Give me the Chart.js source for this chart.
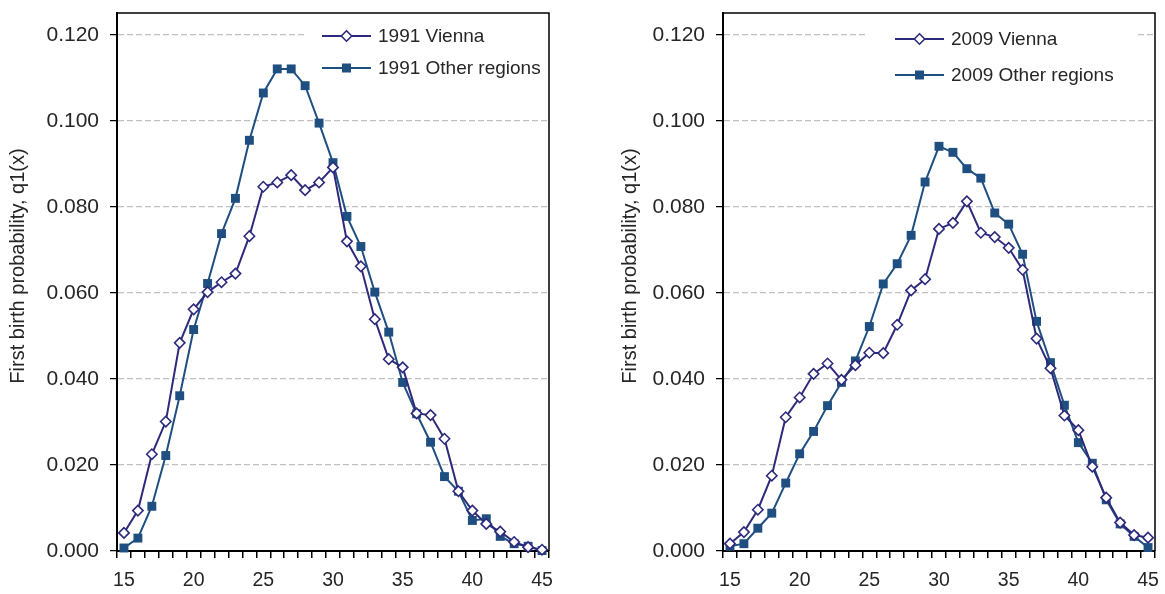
<!DOCTYPE html>
<html>
<head>
<meta charset="utf-8">
<script src="https://cdn.jsdelivr.net/npm/chart.js@4.4.1/dist/chart.umd.min.js"></script>
<style>
  html, body { margin: 0; padding: 0; background: #ffffff; }
  body { width: 1165px; height: 594px; position: relative; overflow: hidden; }
  .box { position: absolute; top: 0; height: 594px; }
  #boxL { left: 0; width: 582px; }
  #boxR { left: 582px; width: 583px; }
</style>
</head>
<body>
<div class="box" id="boxL"><canvas id="chartL"></canvas></div>
<div class="box" id="boxR"><canvas id="chartR"></canvas></div>
<script>
// ---- Data ----
const ages = ['15','16','17','18','19','20','21','22','23','24','25','26','27','28','29','30',
              '31','32','33','34','35','36','37','38','39','40','41','42','43','44','45'];

const vienna1991 = [0.0042,0.0094,0.0225,0.0301,0.0484,0.0562,0.0602,0.0625,0.0645,0.0732,
                    0.0847,0.0857,0.0874,0.0839,0.0857,0.0892,0.0720,0.0662,0.0539,0.0446,
                    0.0427,0.0320,0.0316,0.0261,0.0139,0.0094,0.0063,0.0045,0.0021,0.0009,0.0003];

const other1991  = [0.0007,0.0030,0.0104,0.0222,0.0361,0.0515,0.0622,0.0738,0.0820,0.0955,
                    0.1065,0.1121,0.1121,0.1082,0.0995,0.0903,0.0778,0.0708,0.0602,0.0509,
                    0.0392,0.0319,0.0253,0.0173,0.0139,0.0071,0.0075,0.0034,0.0017,0.0011,0.0001];

const vienna2009 = [0.0017,0.0044,0.0096,0.0175,0.0311,0.0357,0.0412,0.0436,0.0398,0.0432,
                    0.0461,0.0460,0.0526,0.0606,0.0632,0.0749,0.0763,0.0813,0.0740,0.0730,
                    0.0705,0.0654,0.0494,0.0425,0.0315,0.0281,0.0196,0.0124,0.0066,0.0037,0.0031];

const other2009  = [0.0011,0.0017,0.0053,0.0088,0.0158,0.0226,0.0278,0.0338,0.0392,0.0442,
                    0.0522,0.0621,0.0668,0.0734,0.0858,0.0941,0.0927,0.0889,0.0867,0.0786,
                    0.0760,0.0690,0.0534,0.0438,0.0339,0.0252,0.0204,0.0119,0.0063,0.0034,0.0008];

const labelsLeft  = ['1991 Vienna', '1991 Other regions'];
const labelsRight = ['2009 Vienna', '2009 Other regions'];
const yTitle = 'First birth probability, q1(x)';
const xLabelEvery = ['15','20','25','30','35','40','45'];
const yTickValues = [0, 0.02, 0.04, 0.06, 0.08, 0.10, 0.12];

// ---- Styles ----
const COL_V = '#2D2A7C';
const COL_O = '#1F4F80';
const TEXT = '#262626';
const FONT = '"Liberation Sans", Arial, sans-serif';

function framePlugin() {
  return {
    id: 'frame',
    beforeDatasetsDraw(chart) {
      const a = chart.chartArea, ctx = chart.ctx;
      ctx.save();
      ctx.strokeStyle = '#000';
      ctx.lineWidth = 1.5;
      ctx.setLineDash([]);
      ctx.beginPath();
      ctx.moveTo(a.left, a.top); ctx.lineTo(a.right, a.top); ctx.lineTo(a.right, a.bottom);
      ctx.stroke();
      ctx.restore();
    }
  };
}

// y-axis title (drawn slightly above the centre, as in the reference)
function titlePlugin(cfg) {
  return {
    id: 'yTitleText',
    afterDraw(chart) {
      const ctx = chart.ctx;
      ctx.save();
      ctx.translate(cfg.x, cfg.y);
      ctx.rotate(-Math.PI / 2);
      ctx.fillStyle = TEXT;
      ctx.font = '20px ' + FONT;
      ctx.textAlign = 'center';
      ctx.textBaseline = 'middle';
      ctx.fillText(yTitle, 0, 0);
      ctx.restore();
    }
  };
}

function legendPlugin(cfg) {
  return {
    id: 'inLegend',
    beforeDatasetsDraw(chart) {
      const a = chart.chartArea, ctx = chart.ctx;
      ctx.save();
      ctx.fillStyle = '#fff';
      ctx.fillRect(a.left + cfg.bx, a.top + cfg.by, cfg.bw, cfg.bh);
      ctx.restore();
    },
    afterDatasetsDraw(chart) {
      const a = chart.chartArea, ctx = chart.ctx;
      ctx.save();
      ctx.setLineDash([]);
      const x0 = a.left + cfg.lx, x1 = x0 + 49, xm = (x0 + x1) / 2;
      chart.data.datasets.forEach((ds, i) => {
        const y = a.top + cfg.ly[i];
        ctx.strokeStyle = ds.borderColor;
        ctx.lineWidth = 2;
        ctx.beginPath(); ctx.moveTo(x0, y); ctx.lineTo(x1, y); ctx.stroke();
        ctx.beginPath();
        if (i === 0) {
          const r = 5.2;
          ctx.moveTo(xm, y - r); ctx.lineTo(xm + r, y); ctx.lineTo(xm, y + r); ctx.lineTo(xm - r, y); ctx.closePath();
          ctx.fillStyle = '#fff'; ctx.fill();
          ctx.lineWidth = 1.6; ctx.strokeStyle = ds.borderColor; ctx.stroke();
        } else {
          const s = 4.5;
          ctx.rect(xm - s, y - s, 2 * s, 2 * s);
          ctx.fillStyle = ds.borderColor; ctx.fill();
        }
        ctx.fillStyle = TEXT;
        ctx.font = '19px ' + FONT;
        ctx.textBaseline = 'middle';
        ctx.textAlign = 'left';
        ctx.fillText(ds.label, x1 + 7, y + 1);
      });
      ctx.restore();
    }
  };
}

function makeChart(id, labels, vData, oData, opt) {
  const ctx = document.getElementById(id);
  return new Chart(ctx, {
    type: 'line',
    data: {
      labels: ages,
      datasets: [
        {
          label: labels[0], data: vData,
          borderColor: COL_V, borderWidth: 2, backgroundColor: '#ffffff',
          pointStyle: 'rectRot', pointRadius: 5.2, pointBorderWidth: 1.6,
          pointBackgroundColor: '#ffffff', pointBorderColor: COL_V,
          tension: 0, clip: false
        },
        {
          label: labels[1], data: oData,
          borderColor: COL_O, borderWidth: 2, backgroundColor: COL_O,
          pointStyle: 'rect', pointRadius: 6.3, pointBorderWidth: 0,
          pointBackgroundColor: COL_O, pointBorderColor: COL_O,
          tension: 0, clip: false
        }
      ]
    },
    options: {
      responsive: true,
      maintainAspectRatio: false,
      animation: false,
      devicePixelRatio: 1,
      layout: { padding: { left: opt.padLeft, right: opt.padRight, top: 13, bottom: 0 } },
      plugins: { legend: { display: false }, tooltip: { enabled: false } },
      scales: {
        x: {
          type: 'category',
          offset: true,
          grid: { offset: true, drawOnChartArea: false, drawTicks: true, tickLength: 7, color: '#000', lineWidth: 1.5 },
          border: { display: true, color: '#000', width: 2 },
          ticks: {
            autoSkip: false, maxRotation: 0, minRotation: 0, padding: 11,
            color: TEXT, font: { family: FONT, size: 19.5 },
            callback: function(v) { const l = this.getLabelForValue(v); return xLabelEvery.includes(l) ? l : ''; }
          },
          afterFit: (s) => { s.height = 43; s.paddingLeft = 0; s.paddingRight = 0; }
        },
        y: {
          min: 0, max: 0.1251,
          grid: { color: '#C0C0C0', lineWidth: 1.3, tickColor: '#000', tickBorderDash: [1, 0], tickLength: 7, drawTicks: true },
          border: { display: true, color: '#000', width: 2, dash: [6, 3] },
          ticks: {
            padding: 11, color: TEXT, font: { family: FONT, size: 21 },
            callback: (v) => Number(v).toFixed(3)
          },
          afterBuildTicks: (s) => { s.ticks = yTickValues.map(v => ({ value: v })); },
          title: { display: false },
          afterFit: (s) => { s.width = opt.yWidth; s.paddingTop = 0; s.paddingBottom = 0; }
        }
      }
    },
    plugins: [framePlugin(), legendPlugin(opt.legend), titlePlugin(opt.title)]
  });
}

makeChart('chartL', labelsLeft, vienna1991, other1991, {
  padLeft: 6, padRight: 33, yWidth: 111,
  title: { x: 18, y: 266 },
  legend: { bx: 189, by: 9, bw: 241, bh: 62, lx: 205, ly: [23, 55] }
});
makeChart('chartR', labelsRight, vienna2009, other2009, {
  padLeft: 36, padRight: 10, yWidth: 105,
  title: { x: 48, y: 266 },
  legend: { bx: 144, by: 9, bw: 268, bh: 72, lx: 172, ly: [26, 62] }
});
</script>
</body>
</html>
